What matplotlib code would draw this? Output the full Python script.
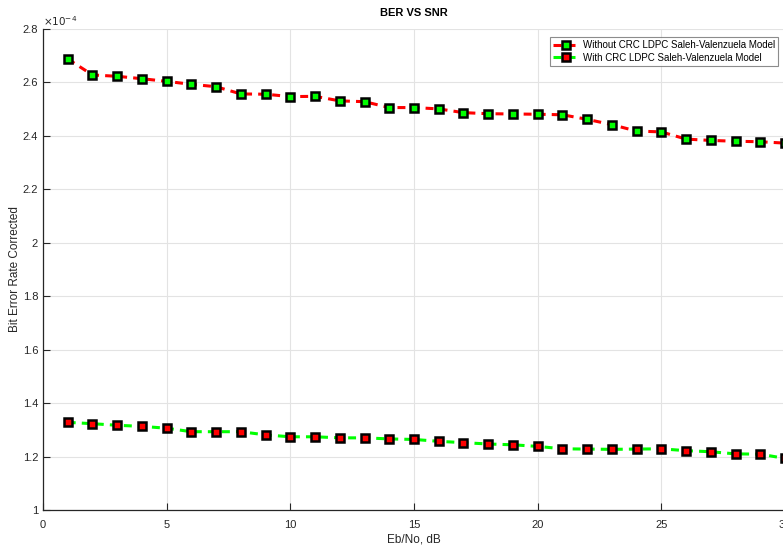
import matplotlib.pyplot as plt
from matplotlib.ticker import FuncFormatter

plt.rcParams['font.family'] = ['Liberation Sans Narrow', 'Liberation Sans', 'DejaVu Sans']

# Eb/No in dB
ebno = list(range(1, 31))

# BER, in units of 1e-4
ber_without_crc = [2.688, 2.628, 2.623, 2.614, 2.604, 2.593, 2.584, 2.557, 2.556, 2.547,
                   2.548, 2.531, 2.528, 2.506, 2.506, 2.501, 2.487, 2.483, 2.482, 2.481,
                   2.479, 2.462, 2.442, 2.418, 2.415, 2.388, 2.383, 2.380, 2.378, 2.373]
ber_with_crc = [1.328, 1.323, 1.317, 1.313, 1.306, 1.293, 1.293, 1.293, 1.281, 1.274,
                1.274, 1.270, 1.270, 1.266, 1.264, 1.257, 1.252, 1.247, 1.244, 1.238,
                1.229, 1.228, 1.227, 1.228, 1.229, 1.222, 1.218, 1.210, 1.209, 1.193]

fig = plt.figure(figsize=(7.83, 5.46), dpi=100)
ax = fig.add_axes([43 / 783, 1 - 510 / 546, 742 / 783, 481 / 546])

ax.plot(ebno, ber_without_crc, '--s', color='#ff0000', lw=2.2, dashes=(2.6, 2),
        ms=5.8, mfc='#00ff00', mec='black', mew=1.8,
        label='Without CRC LDPC Saleh-Valenzuela Model', clip_on=False)
ax.plot(ebno, ber_with_crc, '--s', color='#00ff00', lw=2.2, dashes=(2.6, 2),
        ms=5.8, mfc='#ff0000', mec='black', mew=1.8,
        label='With CRC LDPC Saleh-Valenzuela Model', clip_on=False)

ax.set_xlim(0, 30)
ax.set_ylim(1, 2.8)
ax.set_xticks(range(0, 31, 5))
ax.set_yticks([1, 1.2, 1.4, 1.6, 1.8, 2, 2.2, 2.4, 2.6, 2.8])
ax.yaxis.set_major_formatter(FuncFormatter(lambda v, p: '%g' % round(v, 2)))
ax.tick_params(direction='in', length=5, width=0.8, labelsize=8, colors='#262626')
ax.tick_params(axis='x', pad=7)
ax.grid(True, color='#e3e3e3', lw=0.8)
ax.set_axisbelow(True)
for s in ['top', 'right']:
    ax.spines[s].set_visible(False)
for s in ['left', 'bottom']:
    ax.spines[s].set_color('#262626')
    ax.spines[s].set_linewidth(0.9)

ax.text(0, 1.003, r'$\times10^{-4}$', transform=ax.transAxes, fontsize=7.5,
        color='#262626', va='bottom', ha='left')

ax.set_title('BER VS SNR', fontsize=8, fontweight='bold', pad=9)
ax.set_xlabel('Eb/No, dB', fontsize=8.5, color='#262626', labelpad=3)
ax.set_ylabel('Bit Error Rate Corrected', fontsize=8.5, color='#262626', labelpad=1)

leg = fig.legend(loc='upper right', bbox_to_anchor=(778 / 783, 1 - 37 / 546),
                 fontsize=7, frameon=True, fancybox=False, borderpad=0.3,
                 handlelength=2.8, handletextpad=0.3, labelspacing=0.3,
                 borderaxespad=0)
leg.get_frame().set_edgecolor('#707070')
leg.get_frame().set_linewidth(0.8)

fig.savefig('out.png', dpi=100)
